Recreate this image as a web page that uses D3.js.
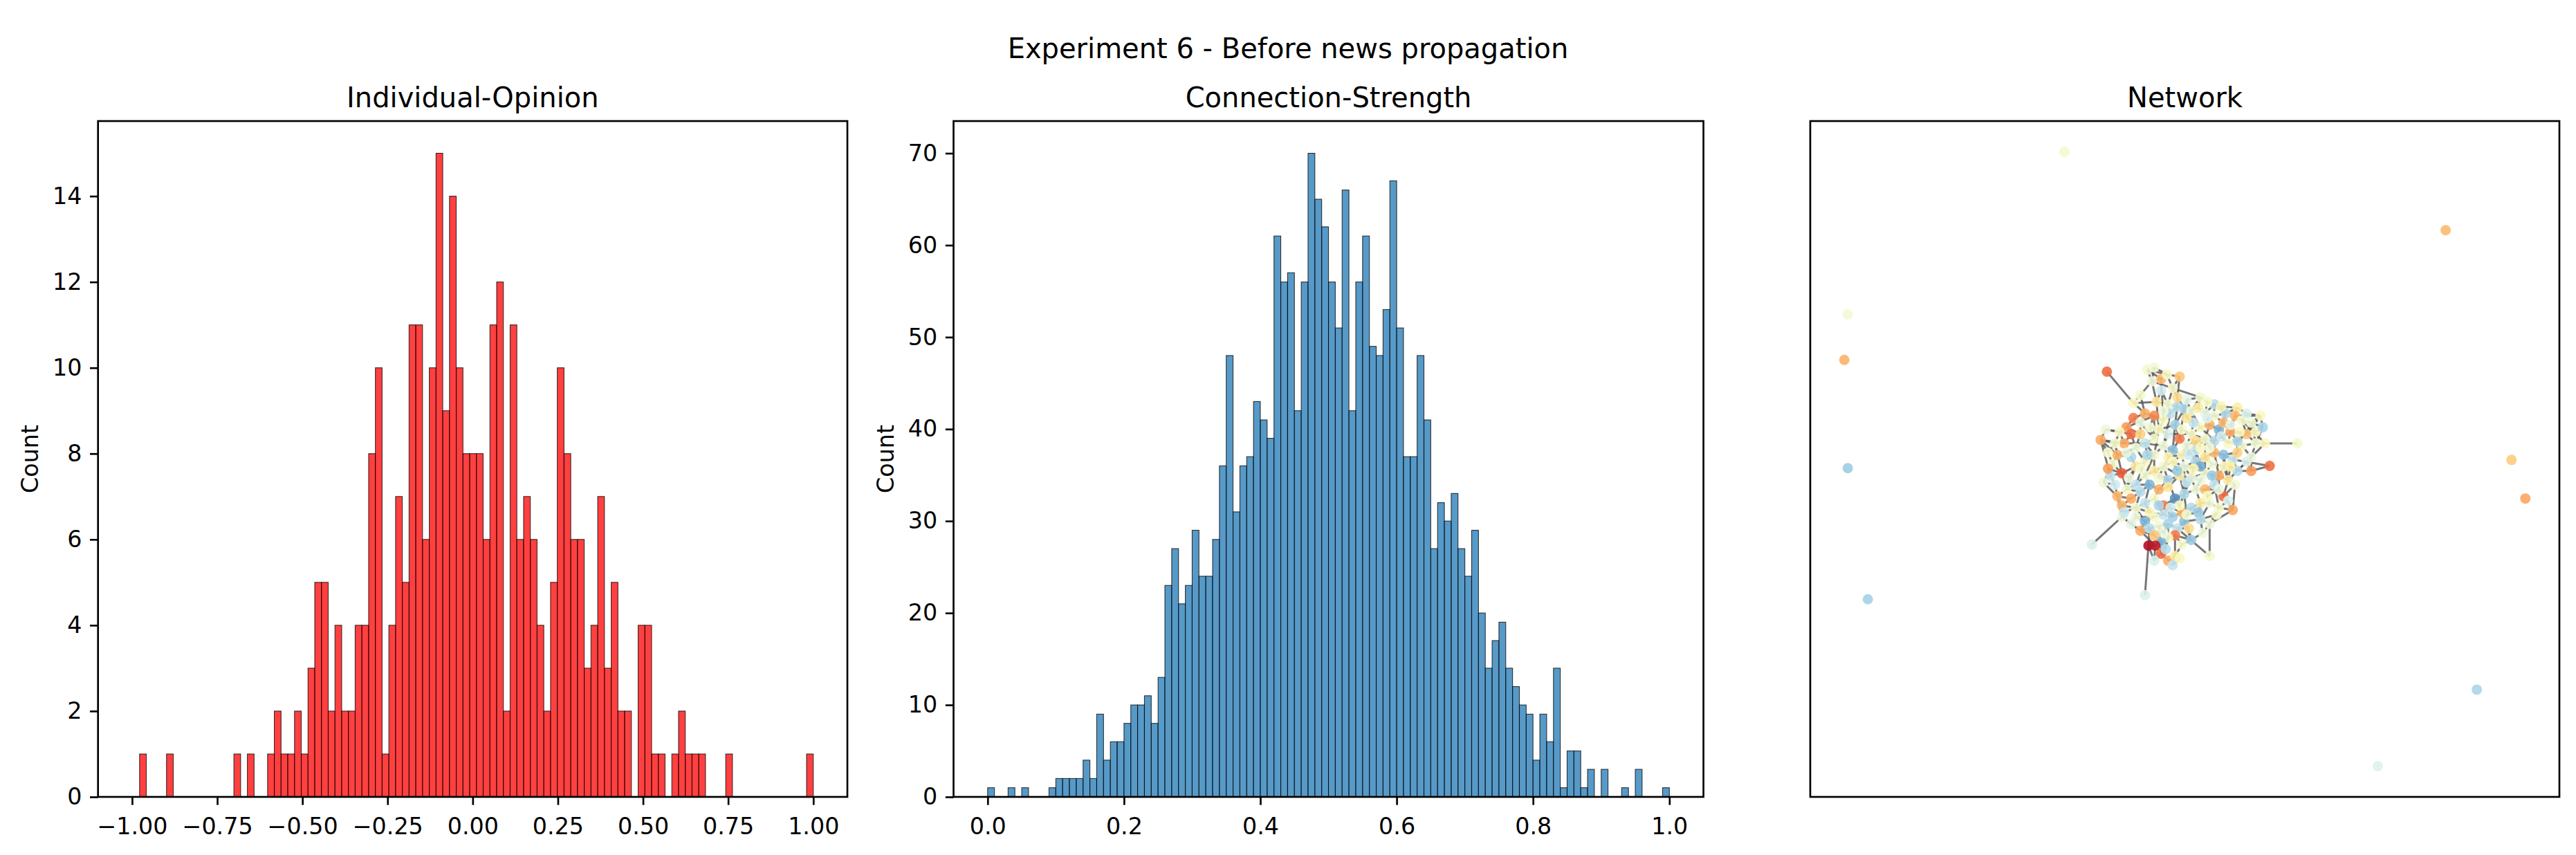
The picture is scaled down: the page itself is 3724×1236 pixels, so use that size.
<!DOCTYPE html>
<html>
<head>
<meta charset="utf-8">
<script src="https://cdn.jsdelivr.net/npm/d3@7"></script>
<style>
    html, body { margin: 0; padding: 0; background: #fff; }
    svg { display: block; font-family: "DejaVu Sans", sans-serif; }
</style>
</head>
<body>
<svg id="fig" width="3724" height="1236"></svg>
<script>
"use strict"

// ---------- data ----------
var figTitle    = "Experiment 6 - Before news propagation";
var panelTitles = ["Individual-Opinion", "Connection-Strength", "Network"];
var yLabel      = "Count";

// opinion histogram: 100 bins from the data minimum to 1.0
var opinionBinStart = -0.978;
var opinionBinEnd   = 1.0;
var opinionAxisSpan = [-1, 1];
var opinionCounts = [
    1, 0, 0, 0, 1, 0, 0, 0, 0, 0,
    0, 0, 0, 0, 1, 0, 1, 0, 0, 1,
    2, 1, 1, 2, 1, 3, 5, 5, 2, 4,
    2, 2, 4, 4, 8, 10, 1, 4, 7, 5,
    11, 11, 6, 10, 15, 9, 14, 10, 8, 8,
    8, 6, 11, 12, 2, 11, 6, 7, 6, 4,
    2, 5, 10, 8, 6, 6, 3, 4, 7, 3,
    5, 2, 2, 0, 4, 4, 1, 1, 0, 1,
    2, 1, 1, 1, 0, 0, 0, 1, 0, 0,
    0, 0, 0, 0, 0, 0, 0, 0, 0, 1
];
var opinionXTicks = [-1, -0.75, -0.5, -0.25, 0, 0.25, 0.5, 0.75, 1];
var opinionYTicks = [0, 2, 4, 6, 8, 10, 12, 14];

// connection strength histogram: 100 bins on [0, 1]
var strengthBinStart = 0.0;
var strengthBinEnd   = 1.0;
var strengthAxisSpan = [0, 1];
var strengthCounts = [
    1, 0, 0, 1, 0, 1, 0, 0, 0, 1,
    2, 2, 2, 2, 4, 2, 9, 4, 6, 6,
    8, 10, 10, 11, 8, 13, 23, 27, 21, 23,
    29, 24, 24, 28, 36, 48, 31, 36, 37, 43,
    41, 39, 61, 56, 57, 42, 56, 70, 65, 62,
    56, 51, 66, 42, 56, 61, 49, 48, 53, 67,
    51, 37, 37, 48, 41, 27, 32, 30, 33, 27,
    24, 29, 20, 14, 17, 19, 14, 12, 10, 9,
    4, 9, 6, 14, 1, 5, 5, 1, 3, 0,
    3, 0, 0, 1, 0, 3, 0, 0, 0, 1
];
var strengthXTicks = [0, 0.2, 0.4, 0.6, 0.8, 1.0];
var strengthYTicks = [0, 10, 20, 30, 40, 50, 60, 70];

// network: [layout x, layout y, opinion]
var nodes = [
    // isolated agents 0-9
    [-51.9, 132.8, 0.05], [113.2, 98.7, -0.35], [-145.7, 62.1, 0.08], [-147.2, 42.3, -0.38],
    [-145.7, -4.8, 0.45], [141.7, -1.2, -0.28], [147.7, -18.0, -0.42], [-137.0, -61.8, 0.42],
    [126.7, -101.1, 0.40], [83.8, -134.4, 0.18],
    // 10-19
    [-33.5, 37.2, -0.60], [-16.0, 38.0, 0.05], [-10.0, 34.0, -0.35], [-7.5, 36.0, 0.02],
    [-14.0, 33.0, 0.10], [-5.0, 30.0, 0.05], [-22.0, 23.5, 0.00], [-17.0, 19.0, -0.38],
    [-12.0, 24.0, -0.15], [-7.0, 23.0, 0.06],
    // 20-29
    [-3.0, 22.0, 0.35], [0.0, 21.0, 0.40], [3.0, 20.0, 0.10], [6.0, 21.5, -0.12],
    [9.0, 19.0, 0.12], [13.0, 18.0, 0.05], [18.0, 19.0, 0.38], [23.0, 21.5, -0.10],
    [22.0, 18.0, -0.35], [25.0, 16.0, 0.03],
    // 30-39
    [29.0, 15.0, 0.08], [33.0, 18.0, 0.00], [-6.0, 19.0, 0.32], [-9.0, 16.0, 0.02],
    [-22.0, 17.0, -0.55], [-25.0, 13.0, -0.45], [-23.0, 10.0, -0.60], [-26.0, 6.0, -0.40],
    [-36.2, 7.5, -0.40], [-30.0, 6.0, 0.05],
    // 40-49
    [-29.0, 1.0, -0.38], [-21.0, 4.0, 0.08], [-17.0, 6.0, 0.30], [-13.0, 8.0, 0.05],
    [-11.0, 12.0, 0.00], [-4.0, 14.0, 0.42], [-2.0, 8.0, -0.55], [1.0, 5.0, 0.10],
    [3.0, 10.0, 0.05], [7.0, 13.0, 0.02],
    // 50-59
    [11.0, 14.0, -0.38], [15.0, 12.0, 0.55], [17.0, 15.0, -0.35], [20.0, 11.0, -0.40],
    [13.0, 7.0, 0.35], [9.0, 8.0, 0.05], [5.0, 3.0, 0.30], [-1.0, 1.0, 0.00],
    [-5.0, 3.0, 0.50], [-9.0, 5.0, 0.10],
    // 60-69
    [-13.0, 1.0, 0.05], [-17.0, -2.0, 0.02], [-21.0, -4.0, -0.15], [-27.0, -7.0, -0.65],
    [-32.0, -8.0, 0.30], [-35.0, -11.0, 0.10], [-29.0, -17.0, -0.35], [-25.0, -14.0, 0.05],
    [-21.0, -12.0, 0.32], [-17.0, -8.0, 0.08],
    // 70-79
    [-13.0, -6.0, -0.12], [-9.0, -4.0, 0.05], [-5.0, -2.0, 0.00], [0.0, -4.0, 0.10],
    [5.0, -2.0, 0.38], [9.0, 0.0, -0.15], [13.0, 2.0, -0.35], [17.0, 1.0, 0.50],
    [21.0, -1.0, 0.30], [25.0, 5.0, 0.05],
    // 80-89
    [31.0, 6.0, 0.08], [35.0, 6.0, 0.00], [49.0, 6.0, 0.05], [37.0, -3.8, -0.60],
    [23.0, -6.0, 0.35], [19.0, -10.0, -0.12], [15.0, -8.0, -0.40], [9.0, -7.0, 0.05],
    [3.0, -9.0, 0.10], [-2.0, -8.0, -0.10],
    // 90-99
    [-7.0, -10.0, 0.40], [-11.0, -14.0, -0.38], [-15.0, -12.0, 0.55], [-19.0, -15.0, 0.35],
    [-23.0, -18.0, -0.40], [-27.0, -21.0, -0.35], [-21.0, -22.0, 0.05], [-17.0, -20.0, 0.30],
    [-13.0, -18.0, 0.05], [-9.0, -21.0, -0.55],
    // 100-109
    [-4.0, -18.0, 0.70], [0.0, -16.0, 0.38], [5.0, -14.0, 0.10], [9.0, -14.0, -0.35],
    [13.0, -12.0, 0.30], [17.0, -17.0, -0.60], [21.0, -23.0, -0.42], [15.0, -22.0, 0.05],
    [11.0, -20.0, 0.10], [7.0, -20.0, -0.12],
    // 110-119
    [3.0, -22.0, 0.35], [-1.0, -24.0, -0.38], [-5.0, -26.0, 0.42], [-9.0, -25.0, 0.30],
    [-13.0, -26.0, 0.05], [-17.0, -28.0, 0.55], [-19.0, -32.0, -0.40], [-15.0, -31.0, 0.35],
    [-11.0, -30.0, 0.08], [-7.0, -29.0, 0.40],
    // 120-129
    [-3.0, -31.0, 0.30], [0.0, -28.0, 0.50], [1.0, -25.0, 0.05], [-4.0, -34.0, -0.55],
    [-7.0, -35.0, 0.05], [-10.0, -37.0, 0.55], [-15.5, -38.5, -0.95], [-12.5, -38.5, -0.90],
    [-10.0, -42.0, -0.60], [-7.0, -45.0, -0.40],
    // 130-139
    [-4.0, -43.0, -0.12], [-5.0, -47.0, 0.30], [11.0, -29.0, 0.10], [11.0, -43.0, 0.05],
    [-27.0, -26.0, 0.10], [-40.0, -38.0, 0.20], [-17.0, -60.0, 0.20], [7.0, 26.0, 0.05],
    [13.0, 23.0, 0.35], [27.0, 10.0, -0.30],
    // 140-149
    [23.0, 7.0, 0.40], [29.0, 0.0, 0.10], [17.0, -4.0, 0.02], [7.0, -4.0, 0.60],
    [-13.0, 18.0, -0.50], [-23.0, 0.0, 0.38], [-31.0, -3.0, 0.05], [7.0, -27.0, 0.35],
    [15.0, -14.0, 0.12], [3.0, -36.0, 0.45],
    // 150-159
    [-19.0, 27.0, 0.05], [-3.0, 26.0, -0.20], [1.0, 25.0, 0.15], [10.0, 24.0, 0.02],
    [16.0, 22.0, -0.05], [20.0, 14.0, 0.15], [27.0, 19.0, 0.20], [31.0, 11.0, 0.00],
    [-28.0, 11.0, 0.00], [-19.0, 10.0, -0.25],
    // 160-169
    [-15.0, 13.0, 0.08], [-7.0, 10.0, 0.20], [-1.0, 12.0, 0.05], [5.0, 7.0, -0.20],
    [11.0, 4.0, 0.10], [19.0, 6.0, 0.02], [23.0, 2.0, -0.25], [-25.0, 2.0, 0.12],
    [-16.0, 1.0, 0.40], [-7.0, 0.0, -0.05],
    // 170-179
    [2.0, 1.0, 0.25], [7.0, 4.0, 0.00], [-33.0, 2.0, 0.05], [-24.0, -9.0, 0.10],
    [-11.0, -9.0, 0.05], [-3.0, -6.0, 0.45], [4.0, -5.0, -0.05], [12.0, -3.0, 0.08],
    [20.0, -4.0, -0.10], [27.0, -2.0, 0.20],
    // 180-189
    [-30.0, -12.0, 0.25], [-19.0, -5.0, 0.05], [-7.0, -13.0, -0.15], [1.0, -11.0, 0.30],
    [7.0, -10.0, 0.12], [12.0, -8.0, 0.45], [22.0, -12.0, 0.08], [-26.0, -24.0, 0.30],
    [-11.0, -21.0, 0.40], [-2.0, -21.0, 0.02],
    // 190-199
    [10.0, -17.0, 0.00], [19.0, -19.0, 0.20], [-21.0, -26.0, 0.10], [-9.0, -33.0, 0.12],
    [2.0, -31.0, -0.20], [6.0, -24.0, 0.45], [-13.0, -34.0, -0.30], [-1.0, -38.0, 0.05],
    [-8.0, -40.0, 0.35], [-2.0, -44.0, 0.00],
    // 200-209
    [-13.0, -45.0, 0.20], [-33.0, -5.0, -0.45], [-34.0, 12.0, 0.10], [-10.0, 29.0, 0.25],
    [-13.0, 39.0, 0.08], [-2.0, 35.0, -0.30], [4.0, 15.0, 0.30], [-19.0, 15.0, 0.12],
    [24.0, 11.0, 0.00], [34.0, 13.0, 0.40],
    // 210-219
    [29.0, -6.0, -0.45], [14.0, -25.0, 0.05], [-15.0, -24.0, -0.05], [-23.0, -29.0, 0.15],
    [-6.0, -22.0, 0.25], [8.0, -33.0, 0.10], [16.0, 9.0, 0.25], [-9.0, 20.0, 0.10],
    [1.0, 17.0, -0.15], [10.0, 17.0, 0.20]
];

var edges = [
    // pendants
    [10, 16], [82, 81], [83, 78], [135, 134], [134, 66], [136, 126], [133, 132], [133, 120], [134, 95],
    // upper part
    [11, 14], [11, 13], [12, 13], [12, 14], [14, 15], [13, 15], [15, 19], [14, 18], [16, 17], [16, 18],
    [17, 34], [17, 33], [18, 19], [19, 20], [20, 21], [21, 22], [22, 23], [23, 24], [24, 25], [25, 26],
    [26, 27], [27, 28], [28, 29], [29, 30], [30, 31], [31, 28], [19, 32], [32, 33], [33, 44], [20, 45],
    [21, 45], [22, 49], [24, 50], [25, 52], [26, 52], [28, 53], [29, 139], [30, 139], [31, 139], [31, 140],
    [30, 80], [29, 81], [137, 23], [137, 22], [138, 25], [138, 26], [137, 15], [11, 12],
    // left part
    [34, 35], [35, 36], [36, 37], [37, 38], [38, 39], [39, 40], [40, 41], [41, 42], [42, 43], [43, 44],
    [44, 45], [45, 46], [46, 47], [47, 48], [48, 49], [49, 50], [50, 51], [51, 52], [52, 53], [53, 54],
    [54, 55], [55, 56], [56, 57], [57, 58], [58, 59], [59, 60], [60, 61], [61, 62], [62, 63], [63, 64],
    [64, 65], [65, 66], [66, 67], [67, 68], [68, 69], [69, 70], [70, 71], [71, 72], [72, 73], [73, 74],
    [74, 75], [75, 76], [76, 77], [77, 78], [78, 79], [79, 80], [80, 81],
    [144, 17], [144, 33], [144, 43], [36, 41], [35, 144], [37, 42], [38, 40], [40, 145], [145, 62],
    [146, 63], [146, 64], [146, 40], [63, 67], [65, 146], [39, 37],
    // middle
    [46, 58], [47, 57], [48, 55], [49, 54], [50, 55], [51, 54], [53, 140], [54, 76], [55, 75], [56, 74],
    [56, 143], [57, 72], [58, 71], [59, 42], [60, 69], [61, 68], [62, 67], [71, 90], [72, 89], [73, 88],
    [74, 87], [75, 87], [76, 86], [77, 142], [78, 84], [79, 141], [80, 141], [81, 141], [139, 140],
    [140, 79], [141, 84], [142, 85], [142, 86], [143, 87], [143, 73],
    // lower part
    [84, 85], [85, 86], [86, 87], [87, 88], [88, 89], [89, 90], [90, 91], [91, 92], [92, 93], [93, 94],
    [94, 95], [95, 96], [96, 97], [97, 98], [98, 99], [99, 100], [100, 101], [101, 102], [102, 103],
    [103, 104], [104, 105], [105, 106], [106, 107], [107, 108], [108, 109], [109, 110], [110, 111],
    [111, 112], [112, 113], [113, 114], [114, 115], [115, 116], [116, 117], [117, 118], [118, 119],
    [119, 120], [120, 121], [121, 122], [122, 110],
    [85, 105], [86, 104], [86, 148], [148, 105], [148, 103], [88, 102], [89, 101], [90, 100], [91, 98],
    [92, 97], [93, 96], [94, 66], [95, 134], [96, 115], [97, 114], [98, 113], [99, 112], [100, 111],
    [101, 122], [102, 109], [103, 108], [104, 107], [106, 132], [107, 132], [108, 147], [109, 147],
    [147, 121], [147, 132],
    [123, 124], [124, 125], [125, 127], [126, 127], [125, 128], [128, 129], [129, 130], [130, 131],
    [129, 131], [123, 120], [123, 149], [149, 121], [124, 119], [125, 118], [126, 117], [127, 116],
    [128, 124], [130, 123],
    // cross links
    [21, 46], [32, 59], [44, 60], [45, 58], [48, 56], [52, 54], [12, 33], [18, 44], [41, 61], [42, 60],
    [69, 92], [70, 90], [71, 89], [73, 101], [74, 143], [87, 102], [88, 101], [57, 73], [47, 74],
    [60, 70], [100, 113], [121, 110], [39, 63], [38, 64], [66, 95], [67, 93], [68, 92], [116, 134],
    [115, 117], [77, 85], [76, 77], [139, 80], [53, 139], [51, 50], [26, 51], [20, 32], [22, 137], [24, 138],
    // links of the inner agents
    [150, 16], [150, 17], [150, 14], [151, 15], [151, 20], [151, 21], [152, 21], [152, 22], [152, 137],
    [153, 24], [153, 137], [153, 138], [154, 138], [154, 26], [154, 27], [155, 52], [155, 53], [155, 28],
    [156, 27], [156, 29], [156, 31], [157, 30], [157, 139], [157, 209], [158, 35], [158, 37], [158, 39],
    [159, 41], [159, 35], [159, 207], [160, 144], [160, 43], [160, 44], [161, 59], [161, 44], [161, 48],
    [162, 45], [162, 46], [162, 48], [163, 47], [163, 56], [163, 55], [164, 54], [164, 55], [164, 76],
    [165, 53], [165, 216], [165, 140], [166, 140], [166, 78], [166, 77], [167, 40], [167, 41], [167, 145],
    [168, 60], [168, 61], [168, 42], [169, 57], [169, 72], [169, 59], [170, 57], [170, 47], [170, 56],
    [171, 56], [171, 163], [172, 39], [172, 38], [172, 146], [173, 63], [173, 67], [173, 62],
    [174, 70], [174, 71], [174, 90], [175, 72], [175, 89], [175, 73], [176, 73], [176, 74], [176, 88],
    [177, 87], [177, 75], [177, 142], [178, 142], [178, 84], [178, 85], [179, 141], [179, 84], [179, 210],
    [180, 65], [180, 66], [180, 64], [181, 62], [181, 69], [181, 61], [182, 90], [182, 91], [182, 89],
    [183, 88], [183, 101], [183, 89], [184, 87], [184, 102], [184, 88], [185, 86], [185, 104], [185, 87],
    [186, 85], [186, 105], [186, 106], [187, 95], [187, 134], [187, 96], [188, 99], [188, 98], [188, 113],
    [189, 100], [189, 101], [189, 111], [190, 103], [190, 108], [190, 148], [191, 105], [191, 106], [191, 107],
    [192, 96], [192, 114], [192, 115], [193, 118], [193, 124], [193, 119], [194, 120], [194, 121], [194, 149],
    [195, 109], [195, 110], [195, 122], [196, 116], [196, 117], [196, 125], [197, 123], [197, 149], [197, 130],
    [198, 124], [198, 125], [198, 128], [199, 130], [199, 131], [199, 129], [200, 128], [200, 127], [200, 126],
    [201, 63], [201, 146], [201, 64], [202, 38], [202, 158], [202, 36], [203, 12], [203, 18], [203, 19],
    [204, 11], [204, 13], [204, 14], [205, 13], [205, 15], [205, 151], [206, 22], [206, 48], [206, 49],
    [207, 17], [207, 34], [207, 43], [208, 53], [208, 139], [208, 79], [209, 31], [209, 80], [209, 30],
    [210, 83], [210, 141], [210, 84], [211, 107], [211, 132], [211, 147], [212, 97], [212, 113], [212, 96],
    [213, 116], [213, 134], [213, 192], [214, 112], [214, 111], [214, 99], [215, 147], [215, 149], [215, 132],
    [216, 54], [216, 51], [216, 165], [217, 32], [217, 19], [217, 33], [218, 21], [218, 22], [218, 206],
    [219, 25], [219, 24], [219, 50]
];

// ---------- layout ----------
var PT      = 240 / 72;           // one point in pixels
var TOP     = 175;
var BOTTOM  = 1152;
var panelX  = [[141.7, 1225], [1378.5, 2462.6], [2617, 3700]];
var tickFont  = 10 * PT;
var titleFont = 12 * PT;

var svg = d3.select('#fig');
svg.append('rect').attr('width', 3724).attr('height', 1236).attr('fill', '#fff');

function padded(span, frac) {
    var p = (span[1] - span[0]) * frac;
    return [span[0] - p, span[1] + p];
}

function styleAxis(g) {
    g.attr('font-size', null).attr('font-family', null);
    g.select('.domain').remove();
    g.selectAll('.tick line').attr('stroke', '#000').attr('stroke-width', 0.8 * PT);
    g.selectAll('.tick text')
        .attr('fill', '#000')
        .style('font-size', tickFont + 'px');
}

function spines(g, box) {
    g.append('rect')
        .attr('x', box[0]).attr('y', TOP)
        .attr('width', box[1] - box[0]).attr('height', BOTTOM - TOP)
        .attr('fill', 'none').attr('stroke', '#000')
        .attr('stroke-width', 0.8 * PT);
}

function title(text, box) {
    svg.append('text')
        .attr('x', (box[0] + box[1]) / 2).attr('y', TOP - 20)
        .attr('text-anchor', 'middle')
        .style('font-size', titleFont + 'px')
        .text(text);
}

function histogram(box, counts, binStart, binEnd, axisSpan, xTicks, xFmt, yTicks, colour, name) {
    var x = d3.scaleLinear().domain(padded(axisSpan, 0.05)).range(box);
    var y = d3.scaleLinear().domain([0, d3.max(counts) * 1.05]).range([BOTTOM, TOP]);
    var w = (binEnd - binStart) / counts.length;
    var bins = counts.map((c, i) => ({ x0: binStart + i * w, x1: binStart + (i + 1) * w, n: c }))
        .filter(d => d.n > 0);

    var g = svg.append('g');
    g.selectAll('rect.bar').data(bins).enter()
        .append('rect')
        .attr('class', 'bar')
        .attr('x', d => x(d.x0))
        .attr('width', d => x(d.x1) - x(d.x0))
        .attr('y', d => y(d.n))
        .attr('height', d => y(0) - y(d.n))
        .attr('fill', colour).attr('fill-opacity', 0.75)
        .attr('stroke', '#000').attr('stroke-opacity', 0.75)
        .attr('stroke-width', 1.1);

    var xa = g.append('g')
        .attr('transform', 'translate(0,' + BOTTOM + ')')
        .call(d3.axisBottom(x).tickValues(xTicks).tickFormat(d3.format(xFmt))
            .tickSize(3.5 * PT).tickPadding(3.5 * PT));
    styleAxis(xa);
    xa.selectAll('.tick text').attr('dy', '0.92em');

    var ya = g.append('g')
        .attr('transform', 'translate(' + box[0] + ',0)')
        .call(d3.axisLeft(y).tickValues(yTicks).tickFormat(d3.format('d'))
            .tickSize(3.5 * PT).tickPadding(3.5 * PT));
    styleAxis(ya);

    g.append('text')
        .attr('transform', 'translate(' + (box[0] - 86.9) + ',' + ((TOP + BOTTOM) / 2) + ') rotate(-90)')
        .attr('text-anchor', 'middle')
        .style('font-size', tickFont + 'px')
        .text(yLabel);

    spines(g, box);
    title(name, box);
}

function network(box) {
    var x = d3.scaleLinear().domain(padded(d3.extent(nodes, d => d[0]), 0.05)).range(box);
    var y = d3.scaleLinear().domain(padded(d3.extent(nodes, d => d[1]), 0.05)).range([BOTTOM, TOP]);
    // colour by opinion over the full opinion span
    var colour = d3.scaleSequential(d3.interpolateRdYlBu).domain(opinionAxisSpan);

    var g = svg.append('g');
    g.selectAll('line.edge').data(edges).enter()
        .append('line')
        .attr('class', 'edge')
        .attr('x1', d => x(nodes[d[0]][0])).attr('y1', d => y(nodes[d[0]][1]))
        .attr('x2', d => x(nodes[d[1]][0])).attr('y2', d => y(nodes[d[1]][1]))
        .attr('stroke', '#555').attr('stroke-opacity', 0.8)
        .attr('stroke-width', 3);

    g.selectAll('circle.node').data(nodes).enter()
        .append('circle')
        .attr('class', 'node')
        .attr('cx', d => x(d[0])).attr('cy', d => y(d[1]))
        .attr('r', 7.5)
        .attr('fill', d => colour(d[2]))
        .attr('fill-opacity', 0.9);

    spines(g, box);
    title(panelTitles[2], box);
}

histogram(panelX[0], opinionCounts, opinionBinStart, opinionBinEnd, opinionAxisSpan,
    opinionXTicks, '.2f', opinionYTicks, 'red', panelTitles[0]);
histogram(panelX[1], strengthCounts, strengthBinStart, strengthBinEnd, strengthAxisSpan,
    strengthXTicks, '.1f', strengthYTicks, '#1f77b4', panelTitles[1]);
network(panelX[2]);

svg.append('text')
    .attr('x', 3724 / 2).attr('y', 84)
    .attr('text-anchor', 'middle')
    .style('font-size', titleFont + 'px')
    .text(figTitle);
</script>
</body>
</html>
